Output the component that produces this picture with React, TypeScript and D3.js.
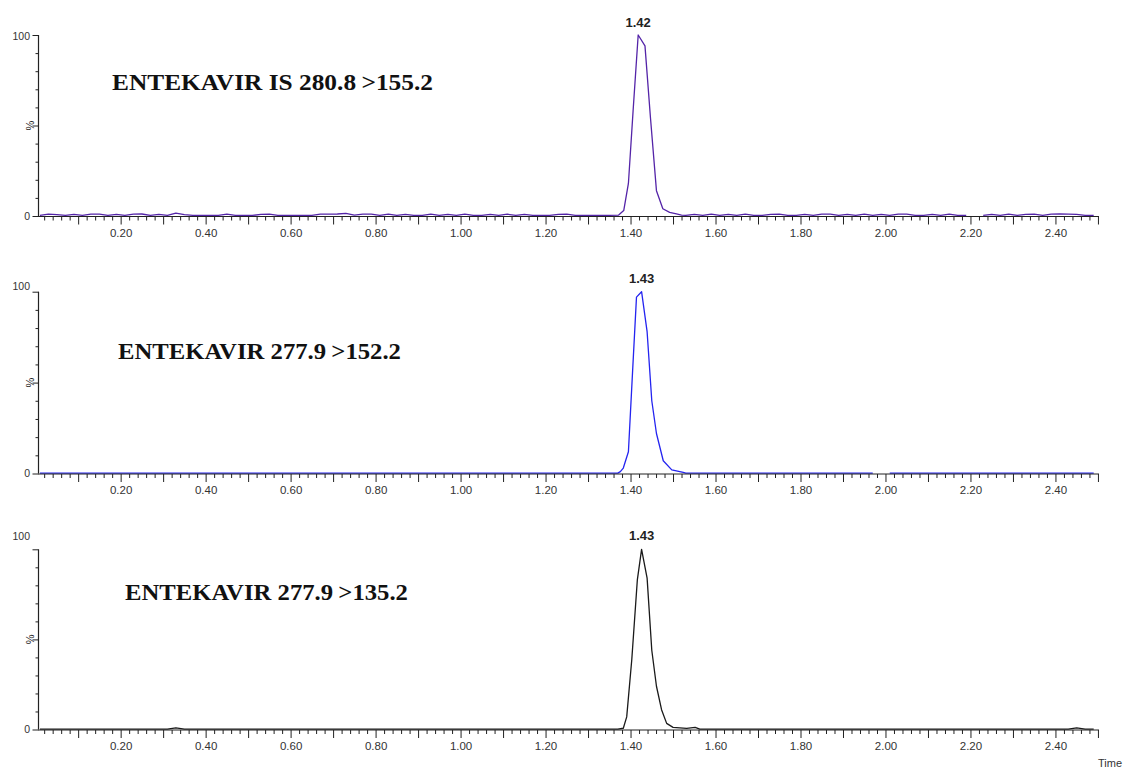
import { useRef, useEffect } from 'react';
import * as d3 from 'd3';

const W = 1127;
const H = 769;

// time axis of the chromatograms (min)
const X_DOMAIN = [0.0055, 2.5025];
const X_LABELS = ['0.20', '0.40', '0.60', '0.80', '1.00', '1.20', '1.40', '1.60', '1.80', '2.00', '2.20', '2.40'];
const Y_LABELS = ['0', '100'];

const TITLES = ['ENTEKAVIR IS 280.8', 'ENTEKAVIR 277.9', 'ENTEKAVIR 277.9'];
const TITLES_TAIL = ['>155.2', '>152.2', '>135.2'];
const PEAK_LABELS = ['1.42', '1.43', '1.43'];
const PEAK_TIMES = [1.418, 1.426, 1.426];
const COLORS = ['#5424a8', '#2424f0', '#1a1a1a'];

// baseline noise, sampled every 0.02 min starting 0.01 (null = gap in the data)
const NOISE_START = 0.01;
const NOISE_STEP = 0.02;
const NOISE_1 = [
  0.3, 1.0, 0.8, 0.3, 0.9, 0.4, 1.0, 1.0, 0.4, 0.9, 0.3, 1.0, 1.1, 0.4, 0.9, 0.3, 1.6, 0.8, 0.3, 0.3,
  0.3, 0.3, 1.0, 0.4, 0.3, 0.3, 0.9, 1.0, 0.3, 0.3, 0.3, 0.3, 0.3, 1.0, 1.0, 1.1, 1.5, 0.5, 1.0, 1.0,
  0.4, 1.0, 0.3, 0.9, 0.3, 0.3, 1.0, 0.4, 0.9, 0.3, 1.0, 0.3, 0.3, 0.9, 0.4, 1.0, 0.3, 0.9, 0.3, 0.3,
  0.3, 0.9, 1.0, 0.3, 0.4, 0.4, 0.4, 0.4, 0.4, 0.4, 0.3, 0.9, 0.4, 0.3, 1.0, 0.4, 0.3, 0.9, 0.3,
  1.0, 0.3, 0.9, 0.4, 1.0, 0.3, 0.3, 0.9, 1.0, 0.3, 0.3, 0.9, 0.3, 1.0, 1.0, 0.4, 0.9, 0.3, 1.0,
  0.3, 0.9, 0.3, 1.0, 1.0, 0.3, 0.3, 0.9, 0.3, 1.0, 0.3, 0.3, null, 0.3, 0.9, 0.4, 1.0, 0.3, 0.9,
  1.0, 0.4, 1.0, 1.1, 1.0, 0.9, 0.4, 0.3,
];
const NOISE_2 = [
  0.2, 0.2, 0.2, 0.2, 0.2, 0.2, 0.2, 0.2, 0.2, 0.2, 0.2, 0.2, 0.2, 0.2, 0.2, 0.2, 0.2, 0.2, 0.2, 0.2,
  0.2, 0.2, 0.2, 0.2, 0.2, 0.2, 0.2, 0.2, 0.2, 0.2, 0.2, 0.2, 0.2, 0.2, 0.2, 0.2, 0.2, 0.2, 0.2, 0.2,
  0.2, 0.2, 0.2, 0.2, 0.2, 0.2, 0.2, 0.2, 0.2, 0.2, 0.2, 0.2, 0.2, 0.2, 0.2, 0.2, 0.2, 0.2, 0.2, 0.2,
  0.2, 0.2, 0.2, 0.2, 0.2, 0.2, 0.2, 0.2, 0.2, 0.2, 0.2, 0.2, 0.2, 0.2, 0.2, 0.2, 0.2, 0.2, 0.2,
  0.2, 0.2, 0.2, 0.2, 0.2, 0.2, 0.2, 0.2, 0.2, 0.2, 0.2, 0.2, 0.2, 0.2, 0.2, 0.2, 0.2, 0.2, 0.2,
  0.2, null, 0.2, 0.2, 0.2, 0.2, 0.2, 0.2, 0.2, 0.2, 0.2, 0.2, 0.2, 0.2, 0.2, 0.2, 0.2, 0.2, 0.2,
  0.2, 0.2, 0.2, 0.2, 0.2, 0.2, 0.2, 0.2,
];
const NOISE_3 = [
  0.2, 0.2, 0.2, 0.2, 0.2, 0.2, 0.2, 0.2, 0.2, 0.2, 0.2, 0.2, 0.2, 0.2, 0.2, 0.2, 0.9, 0.2, 0.2, 0.2,
  0.2, 0.2, 0.2, 0.2, 0.2, 0.2, 0.2, 0.2, 0.2, 0.2, 0.2, 0.2, 0.2, 0.2, 0.2, 0.2, 0.2, 0.2, 0.2, 0.2,
  0.2, 0.2, 0.2, 0.2, 0.2, 0.2, 0.2, 0.2, 0.2, 0.2, 0.2, 0.2, 0.2, 0.2, 0.2, 0.2, 0.2, 0.2, 0.2, 0.2,
  0.2, 0.2, 0.2, 0.2, 0.2, 0.2, 0.2, 0.2, 0.2, 0.2, 0.2, 0.2, 0.2, 0.2, 0.2, 0.2, 0.2, 0.2, 0.2,
  0.2, 0.2, 0.2, 0.2, 0.2, 0.2, 0.2, 0.2, 0.2, 0.2, 0.2, 0.2, 0.2, 0.2, 0.2, 0.2, 0.2, 0.2, 0.2,
  0.2, 0.2, 0.2, 0.2, 0.2, 0.2, 0.2, 0.2, 0.2, 0.2, 0.2, 0.2, 0.2, 0.2, 0.2, 0.2, 0.2, 0.2, 0.2,
  0.2, 0.2, 0.2, 0.2, 0.2, 0.9, 0.2, 0.2,
];
const NOISES = [NOISE_1, NOISE_2, NOISE_3];

// peak region [time, %]
const PEAK_1 = [
  [1.372, 0.5], [1.384, 3], [1.395, 18], [1.406, 58], [1.418, 100], [1.434, 94], [1.447, 54],
  [1.461, 14], [1.476, 4], [1.492, 2], [1.508, 1.2], [1.52, 0.5],
];
const PEAK_2 = [
  [1.370, 0.2], [1.376, 1], [1.383, 3], [1.395, 12], [1.405, 57], [1.414, 97], [1.426, 100],
  [1.439, 78], [1.450, 40], [1.461, 22], [1.477, 7], [1.497, 2], [1.524, 0.6],
];
const PEAK_3 = [
  [1.37, 0.2], [1.383, 0.7], [1.391, 7], [1.403, 39], [1.416, 83], [1.426, 100], [1.439, 84],
  [1.450, 44], [1.461, 24], [1.473, 11], [1.485, 3.4], [1.500, 1.2], [1.532, 0.6], [1.552, 1.2],
  [1.563, 0.2],
];
const PEAKS = [PEAK_1, PEAK_2, PEAK_3];

// panel geometry (pixel rows of 0 % and 100 %)
const PANELS = [
  { y0: 216, y100: 35, lab100: 36, titleX: 112, titleY: 90, titleW: 321, peakY: 27 },
  { y0: 473.5, y100: 291.7, lab100: 286, titleX: 118, titleY: 359, titleW: 283, peakY: 283 },
  { y0: 729.5, y100: 549.3, lab100: 536, titleX: 125, titleY: 600, titleW: 283, peakY: 540 },
];

const AXIS_COLOR = '#222';
const TICK_TEXT = '#333';
const SANS = 'Arial, "Liberation Sans", sans-serif';
const SERIF = '"Times New Roman", "Liberation Serif", serif';

export default function App() {
  const svgRef = useRef<SVGSVGElement | null>(null);

  useEffect(() => {
    const svg = d3.select(svgRef.current);
    svg.selectAll('*').remove();

    const x = d3.scaleLinear().domain(X_DOMAIN).range([38, 1099]);
    const minorTicks = d3.range(1, 126).map(i => i * 0.02).filter(t => Math.round(t * 100) % 10 !== 0);
    const majorTicks = d3.range(1, 26).map(i => i * 0.1);

    PANELS.forEach((p, k) => {
      const y = d3.scaleLinear().domain([0, 100]).range([p.y0, p.y100]);
      const g = svg.append('g');

      // trace
      const noise = NOISES[k].map((v, i) => [NOISE_START + i * NOISE_STEP, v] as [number, number | null]);
      const peak = PEAKS[k];
      const pStart = peak[0][0];
      const pEnd = peak[peak.length - 1][0];
      const pts = noise
        .filter(d => d[0] < pStart - 0.005 || d[0] > pEnd + 0.005)
        .concat(peak as [number, number][])
        .sort((a, b) => a[0] - b[0]);

      const line = d3.line<[number, number | null]>()
        .defined(d => d[1] !== null)
        .x(d => x(d[0]))
        .y(d => y(d[1] as number));

      g.append('path')
        .datum(pts)
        .attr('d', line)
        .attr('fill', 'none')
        .attr('stroke', COLORS[k])
        .attr('stroke-width', 1.3)
        .attr('stroke-linejoin', 'round');

      // x axis: minor ticks then major ticks
      g.append('g')
        .attr('transform', `translate(0,${p.y0 + 0.5})`)
        .call(d3.axisBottom(x).tickValues(minorTicks).tickSize(4).tickSizeOuter(0).tickFormat(() => ''))
        .call(a => a.select('.domain').remove());

      const xa = g.append('g')
        .attr('transform', `translate(0,${p.y0 + 0.5})`)
        .call(d3.axisBottom(x).tickValues(majorTicks).tickSize(8).tickSizeOuter(0)
          .tickFormat(d => {
            const s = (+d).toFixed(2);
            return X_LABELS.includes(s) ? s : '';
          }));
      xa.select('.domain').attr('d', `M38,0H1099`);

      xa.selectAll('text')
        .attr('y', 12)
        .attr('fill', TICK_TEXT)
        .attr('font-family', SANS)
        .attr('font-size', 11.5);

      // y axis
      const ya = g.append('g')
        .attr('transform', 'translate(38.5,0)')
        .call(d3.axisLeft(y).tickValues(d3.range(0, 101, 10)).tickFormat(() => '').tickSizeOuter(0));
      ya.selectAll('g.tick line').attr('x2', d => ((d as number) % 50 === 0 ? -6 : -3));
      ya.select('.domain').attr('d', `M0,${p.y0}V${p.y100}`);

      g.selectAll('.domain').attr('stroke', AXIS_COLOR).attr('stroke-width', 1.2);
      g.selectAll('.tick line').attr('stroke', AXIS_COLOR);

      // y labels
      g.append('text')
        .attr('x', 30).attr('y', p.lab100).attr('dy', '0.35em')
        .attr('text-anchor', 'end')
        .attr('font-family', SANS).attr('font-size', 10.5).attr('fill', TICK_TEXT)
        .text(Y_LABELS[1]);
      g.append('text')
        .attr('x', 30).attr('y', p.y0).attr('dy', '0.35em')
        .attr('text-anchor', 'end')
        .attr('font-family', SANS).attr('font-size', 10.5).attr('fill', TICK_TEXT)
        .text(Y_LABELS[0]);
      g.append('text')
        .attr('transform', `translate(33.5,${y(50)}) rotate(-90)`)
        .attr('text-anchor', 'middle')
        .attr('font-family', SANS).attr('font-size', 11).attr('fill', '#222')
        .text('%');

      // peak label
      g.append('text')
        .attr('x', x(PEAK_TIMES[k])).attr('y', p.peakY)
        .attr('text-anchor', 'middle')
        .attr('font-family', SANS).attr('font-size', 13).attr('font-weight', 'bold')
        .attr('fill', '#222')
        .text(PEAK_LABELS[k]);

      // trace title
      const t = g.append('text')
        .attr('x', p.titleX).attr('y', p.titleY)
        .attr('font-family', SERIF).attr('font-size', 23.5).attr('font-weight', 'bold')
        .attr('fill', '#111')
        .attr('textLength', p.titleW)
        .attr('lengthAdjust', 'spacingAndGlyphs');
      t.append('tspan').text(TITLES[k]);
      t.append('tspan').attr('dx', 5).text(TITLES_TAIL[k]);
    });

    svg.append('text')
      .attr('x', 1098).attr('y', 767)
      .attr('font-family', SANS).attr('font-size', 11).attr('fill', TICK_TEXT)
      .text('Time');
  }, []);

  return (
    <svg
      ref={svgRef}
      width={W}
      height={H}
      style={{ position: 'absolute', left: 0, top: 0, background: '#fff', display: 'block' }}
    />
  );
}
